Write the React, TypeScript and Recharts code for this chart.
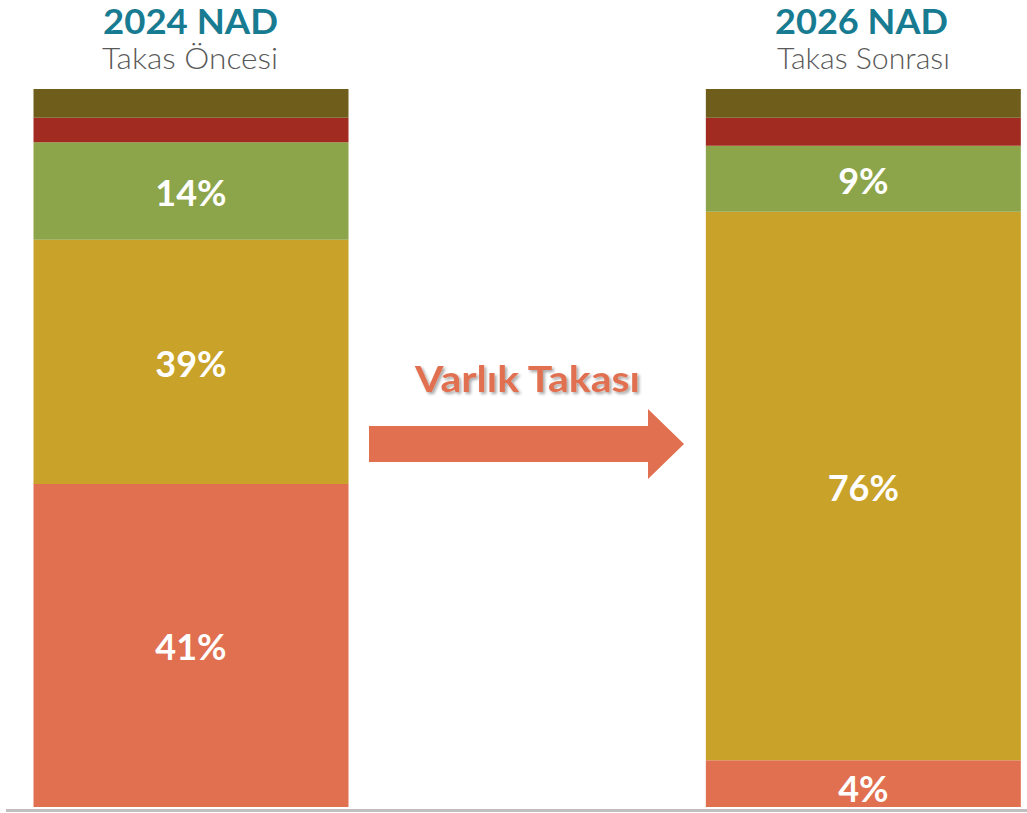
import { BarChart, Bar, XAxis, YAxis, LabelList } from 'recharts';

const categories = ['2024 NAD', '', '2026 NAD'];
const subtitles = ['Takas Öncesi', '', 'Takas Sonrası'];

// segment heights as drawn (share of the bar, bottom to top)
const orangeValues = [45.0, null, 6.5];
const mustardValues = [34.0, null, 76.4];
const greenValues = [13.6, null, 9.2];
const redValues = [3.4, null, 3.9];
const oliveValues = [4.0, null, 4.0];

// printed labels
const orangeLabels = ['41%', '', '4%'];
const mustardLabels = ['39%', '', '76%'];
const greenLabels = ['14%', '', '9%'];

const arrowText = 'Varlık Takası';

const FONT = 'Lato, "Open Sans", sans-serif';

const chartData = categories.map((name, i) => ({
  name,
  orange: orangeValues[i],
  mustard: mustardValues[i],
  green: greenValues[i],
  red: redValues[i],
  olive: oliveValues[i],
  orangeLabel: orangeLabels[i],
  mustardLabel: mustardLabels[i],
  greenLabel: greenLabels[i],
}));

function SegmentLabel(props: any) {
  const { x, y, width, height, value } = props;
  if (!value) return null;
  // thin segments: the label sits a bit lower, as in the original slide
  const shift = height < 60 ? 5 : 2;
  return (
    <text
      x={x + width / 2}
      y={y + height / 2 + 13 + shift}
      textAnchor="middle"
      fill="#ffffff"
      fontSize={36}
      fontWeight={700}
      fontFamily={FONT}
    >
      {value}
    </text>
  );
}

export default function App() {
  return (
    <div style={{ position: 'absolute', left: 0, top: 0, width: 1027, height: 813, overflow: 'hidden', background: '#fff' }}>
      <BarChart
        width={1031}
        height={813}
        data={chartData}
        margin={{ top: 89, right: 0, bottom: 6, left: 22.5 }}
        barSize={315}
      >
        <XAxis dataKey="name" hide />
        <YAxis domain={[0, 100]} hide />
        <Bar dataKey="orange" stackId="a" fill="#E07050" isAnimationActive={false}>
          <LabelList dataKey="orangeLabel" content={SegmentLabel} />
        </Bar>
        <Bar dataKey="mustard" stackId="a" fill="#C9A229" isAnimationActive={false}>
          <LabelList dataKey="mustardLabel" content={SegmentLabel} />
        </Bar>
        <Bar dataKey="green" stackId="a" fill="#8DA54A" isAnimationActive={false}>
          <LabelList dataKey="greenLabel" content={SegmentLabel} />
        </Bar>
        <Bar dataKey="red" stackId="a" fill="#A22B21" isAnimationActive={false} />
        <Bar dataKey="olive" stackId="a" fill="#6F5E1B" isAnimationActive={false} />
      </BarChart>

      <svg
        width={1027}
        height={813}
        style={{ position: 'absolute', left: 0, top: 0, pointerEvents: 'none' }}
      >
        <defs>
          <filter id="shadow" x="-10%" y="-30%" width="120%" height="160%">
            <feDropShadow dx="2" dy="2" stdDeviation="1.5" floodColor="#000" floodOpacity="0.35" />
          </filter>
        </defs>

        {/* headers */}
        <text x={190.5} y={34} textAnchor="middle" fill="#177B91" fontSize={34} fontWeight={700} fontFamily={FONT} textLength={175} lengthAdjust="spacingAndGlyphs">
          {categories[0]}
        </text>
        <text x={190} y={69} textAnchor="middle" fill="#595959" fontSize={29} fontWeight={300} fontFamily={FONT} textLength={176} lengthAdjust="spacingAndGlyphs">
          {subtitles[0]}
        </text>
        <text x={861.5} y={34} textAnchor="middle" fill="#177B91" fontSize={34} fontWeight={700} fontFamily={FONT} textLength={173} lengthAdjust="spacingAndGlyphs">
          {categories[2]}
        </text>
        <text x={863.5} y={69} textAnchor="middle" fill="#595959" fontSize={29} fontWeight={300} fontFamily={FONT} textLength={173} lengthAdjust="spacingAndGlyphs">
          {subtitles[2]}
        </text>

        {/* arrow */}
        <text x={527.5} y={392} textAnchor="middle" fill="#E07050" fontSize={36} fontWeight={700} fontFamily={FONT} textLength={225} lengthAdjust="spacingAndGlyphs" filter="url(#shadow)">
          {arrowText}
        </text>
        <polygon
          points="369,426 648,426 648,409 684,444 648,479 648,462 369,462"
          fill="#E07050"
        />

        {/* baseline */}
        <line x1={6} x2={1027} y1={810.5} y2={810.5} stroke="#BFBFBF" strokeWidth={3} />
      </svg>
    </div>
  );
}
